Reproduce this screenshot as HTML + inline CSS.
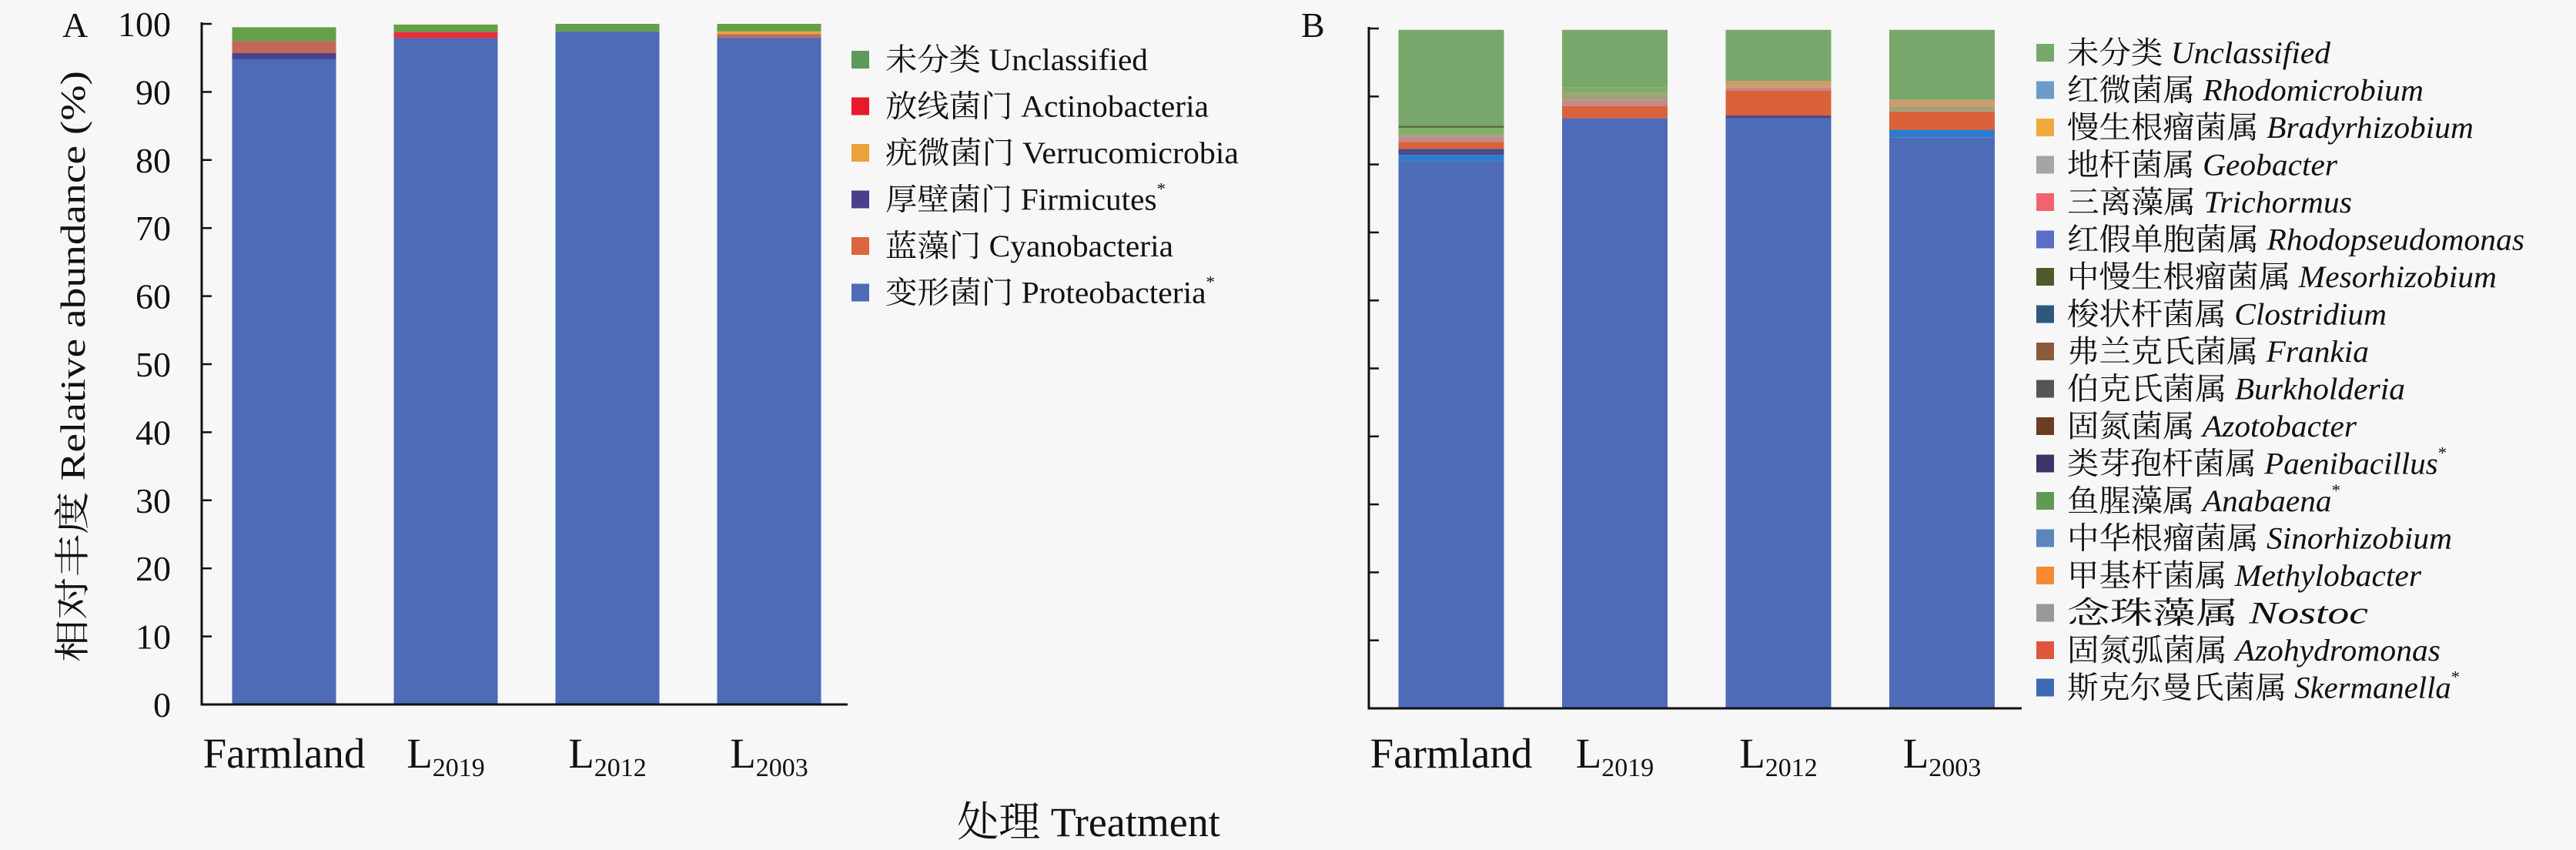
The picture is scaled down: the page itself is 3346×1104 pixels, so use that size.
<!DOCTYPE html>
<html><head><meta charset="utf-8">
<style>
html,body{margin:0;padding:0;background:#f7f7f7;}
svg{display:block;}
text{font-family:"Liberation Serif","Noto Serif CJK SC","Noto Sans CJK SC",serif;fill:#111;}
</style></head>
<body>
<svg id="chart" width="3346" height="1104" viewBox="0 0 3346 1104" xmlns="http://www.w3.org/2000/svg">
<rect x="0" y="0" width="3346" height="1104" fill="#f7f7f7"/>
<g id="panelA"></g>
<g id="panelB"></g>
<text x="81" y="48" font-size="46">A</text>
<text x="1690" y="48" font-size="46">B</text>
<text transform="translate(110,476) rotate(-90)" text-anchor="middle" font-size="46" textLength="768" lengthAdjust="spacingAndGlyphs">相对丰度 Relative abundance (%)</text>
<text x="1414" y="1086" text-anchor="middle" font-size="54">处理 Treatment</text>
</svg>
<script>
const NS = "http://www.w3.org/2000/svg";
// shared categories
const categories = ["Farmland", "L", "L", "L"];
const catSubs = ["", "2019", "2012", "2003"];
const yTicksA = [0,10,20,30,40,50,60,70,80,90,100];

// Panel A series (bottom to top)
const seriesA_names = ["Proteobacteria","Firmicutes","Cyanobacteria","Verrucomicrobia","Actinobacteria","Unclassified"];
const proteobacteria = [94.8, 97.9, 98.9, 98.0];
const firmicutes = [0.9, 0, 0, 0];
const cyanobacteria = [1.8, 0, 0, 0.5];
const verrucomicrobia = [0, 0, 0, 0.4];
const actinobacteria = [0, 0.9, 0, 0];
const unclassifiedA = [2.0, 1.1, 1.1, 1.1];

// Panel B series (bottom to top)
const skermanella = [80.5, 86.8, 86.8, 84.0];
const sinorhizobium = [0.9, 0, 0, 1.1];
const paenibacillus = [0.9, 0, 0.4, 0];
const azohydromonas = [1.0, 1.8, 3.7, 2.7];
const trichormus = [0.8, 0.9, 0.4, 0];
const nostoc = [0.3, 1.0, 0, 0.8];
const anabaena = [1.0, 0.8, 0, 0];
const mesorhizobium = [0.3, 0, 0, 0];
const bradyrhizobium = [0, 0, 1.0, 0.9];
const unclassifiedB = [14.1, 8.5, 7.5, 10.3];

function mk(tag, attrs, parent){
  const e = document.createElementNS(NS, tag);
  for (const k in attrs) e.setAttribute(k, attrs[k]);
  parent.appendChild(e);
  return e;
}

function drawPanel(g, cfg){
  const yScale = v => cfg.y0 - (cfg.y0 - cfg.y100) * v / 100;
  const xCenter = i => cfg.firstCenter + i * cfg.step;
  // bars
  cfg.series.forEach(s => {});
  for (let i = 0; i < categories.length; i++){
    let acc = 0;
    cfg.series.forEach(s => {
      const v = s.values[i];
      if (v <= 0) { return; }
      const r = document.createElementNS(NS, "rect");
      r.setAttribute("x", xCenter(i) - cfg.barW/2);
      r.setAttribute("y", yScale(acc + v));
      r.setAttribute("width", cfg.barW);
      r.setAttribute("height", yScale(acc) - yScale(acc + v));
      r.setAttribute("fill", s.color);
      
      
      g.appendChild(r);
      acc += v;
    });
  }
  // axes
  const ya = document.createElementNS(NS, "line");
  ya.setAttribute("x1", cfg.axisX); ya.setAttribute("x2", cfg.axisX);
  ya.setAttribute("y1", yScale(100) - 2); ya.setAttribute("y2", cfg.y0 + 1.5);
  ya.setAttribute("stroke", "#111"); ya.setAttribute("stroke-width", "3");
  
  
  g.appendChild(ya);
  const xa = document.createElementNS(NS, "line");
  xa.setAttribute("x1", cfg.axisX - 1.5); xa.setAttribute("x2", cfg.axisEnd);
  xa.setAttribute("y1", cfg.y0); xa.setAttribute("y2", cfg.y0);
  xa.setAttribute("stroke", "#111"); xa.setAttribute("stroke-width", "3");
  
  
  g.appendChild(xa);
  yTicksA.forEach(t => {
    const tk = document.createElementNS(NS, "line");
    tk.setAttribute("x1", cfg.axisX); tk.setAttribute("x2", cfg.axisX + 13);
    tk.setAttribute("y1", yScale(t)); tk.setAttribute("y2", yScale(t));
    tk.setAttribute("stroke", "#111"); tk.setAttribute("stroke-width", "2.5");
    
    
    g.appendChild(tk);
    if (cfg.tickLabels){
      const tl = document.createElementNS(NS, "text");
      tl.setAttribute("x", cfg.axisX - 40); tl.setAttribute("y", yScale(t) + 16);
      tl.setAttribute("text-anchor", "end"); tl.setAttribute("font-size", "46");
      tl.textContent = String(t);
      
      
      g.appendChild(tl);
    }
  });
  // x labels
  categories.forEach((c, i) => {
    const t = document.createElementNS(NS, "text");
    t.setAttribute("x", xCenter(i)); t.setAttribute("y", 997);
    t.setAttribute("text-anchor", "middle"); t.setAttribute("font-size", "55");
    t.textContent = c;
    if (catSubs[i]) {
      const sp = document.createElementNS(NS, "tspan");
      sp.setAttribute("font-size", "34"); sp.setAttribute("dy", "11");
      sp.textContent = catSubs[i];
      t.appendChild(sp);
    }
    
    
    g.appendChild(t);
  });
  // legend
  cfg.legend.forEach((L, k) => {
    const yc = cfg.legY0 + k * cfg.legStep;
    const sq = document.createElementNS(NS, "rect");
    sq.setAttribute("x", cfg.legX); sq.setAttribute("y", yc - 11);
    sq.setAttribute("width", 23); sq.setAttribute("height", 23);
    sq.setAttribute("fill", L.color);
    
    
    g.appendChild(sq);
    const t = document.createElementNS(NS, "text");
    t.setAttribute("x", cfg.legTextX); t.setAttribute("y", yc + 14);
    t.setAttribute("font-size", "40");
    t.setAttribute("textLength", L.w); t.setAttribute("lengthAdjust", "spacingAndGlyphs");
    const a = document.createElementNS(NS, "tspan"); a.textContent = L.cn + " ";
    t.appendChild(a);
    const b = document.createElementNS(NS, "tspan"); b.textContent = L.en;
    if (cfg.italic) b.setAttribute("font-style", "italic");
    t.appendChild(b);
    if (L.star) {
      const s = document.createElementNS(NS, "tspan");
      s.setAttribute("font-size", "22"); s.setAttribute("dy", "-20"); s.textContent = "*";
      t.appendChild(s);
    }
    
    
    g.appendChild(t);
  });
}

drawPanel(document.getElementById("panelA"), {
  y0: 915, y100: 31, axisX: 262, axisEnd: 1101, firstCenter: 369, step: 210, barW: 135, tickLabels: true,
  series: [
    {values: proteobacteria, color: "#4e6bb7"},
    {values: firmicutes, color: "#4a4290"},
    {values: cyanobacteria, color: "#c0685a"},
    {values: verrucomicrobia, color: "#e8a23a"},
    {values: actinobacteria, color: "#e8303c"},
    {values: unclassifiedA, color: "#63a046"}
  ],
  legX: 1106, legTextX: 1150, legY0: 77, legStep: 60.5, italic: false,
  legend: [
    {cn:"未分类", en:"Unclassified", color:"#5b9a5a", w:341},
    {cn:"放线菌门", en:"Actinobacteria", color:"#e8192c", w:420},
    {cn:"疣微菌门", en:"Verrucomicrobia", color:"#eaa23a", w:459},
    {cn:"厚壁菌门", en:"Firmicutes", color:"#4a3f8c", w:364, star:true},
    {cn:"蓝藻门", en:"Cyanobacteria", color:"#d9663e", w:374},
    {cn:"变形菌门", en:"Proteobacteria", color:"#4e6bb7", w:428, star:true}
  ]
});

drawPanel(document.getElementById("panelB"), {
  y0: 920, y100: 37, axisX: 1778, axisEnd: 2626, firstCenter: 1885, step: 212.5, barW: 137, tickLabels: false,
  series: [
    {values: skermanella, color: "#4e6bb7"},
    {values: sinorhizobium, color: "#2f7bd0"},
    {values: paenibacillus, color: "#4a4a8c"},
    {values: azohydromonas, color: "#d9623a"},
    {values: trichormus, color: "#c48a8e"},
    {values: nostoc, color: "#a0a27a"},
    {values: anabaena, color: "#7fae6a"},
    {values: mesorhizobium, color: "#4f6a3a"},
    {values: bradyrhizobium, color: "#cf9b6a"},
    {values: unclassifiedB, color: "#78a86c"}
  ],
  legX: 2645, legTextX: 2685, legY0: 68, legStep: 48.5, italic: true,
  legend: [
    {cn:"未分类", en:"Unclassified", color:"#78a86c", w:342},
    {cn:"红微菌属", en:"Rhodomicrobium", color:"#6e9bc8", w:463},
    {cn:"慢生根瘤菌属", en:"Bradyrhizobium", color:"#f0a93c", w:528},
    {cn:"地杆菌属", en:"Geobacter", color:"#a5a5a5", w:351},
    {cn:"三离藻属", en:"Trichormus", color:"#f0646e", w:370},
    {cn:"红假单胞菌属", en:"Rhodopseudomonas", color:"#5a6ec8", w:594},
    {cn:"中慢生根瘤菌属", en:"Mesorhizobium", color:"#4f5a2a", w:558},
    {cn:"梭状杆菌属", en:"Clostridium", color:"#2f577e", w:415},
    {cn:"弗兰克氏菌属", en:"Frankia", color:"#8a5a3a", w:392},
    {cn:"伯克氏菌属", en:"Burkholderia", color:"#555555", w:439},
    {cn:"固氮菌属", en:"Azotobacter", color:"#6b3e22", w:376},
    {cn:"类芽孢杆菌属", en:"Paenibacillus", color:"#3b3468", w:493, star:true},
    {cn:"鱼腥藻属", en:"Anabaena", color:"#5f9b55", w:355, star:true},
    {cn:"中华根瘤菌属", en:"Sinorhizobium", color:"#5b86bd", w:500},
    {cn:"甲基杆菌属", en:"Methylobacter", color:"#f58a30", w:460},
    {cn:"念珠藻属", en:"Nostoc", color:"#999999", w:391},
    {cn:"固氮弧菌属", en:"Azohydromonas", color:"#e0563c", w:485},
    {cn:"斯克尔曼氏菌属", en:"Skermanella", color:"#3d69b0", w:510, star:true}
  ]
});
</script>
</body></html>
